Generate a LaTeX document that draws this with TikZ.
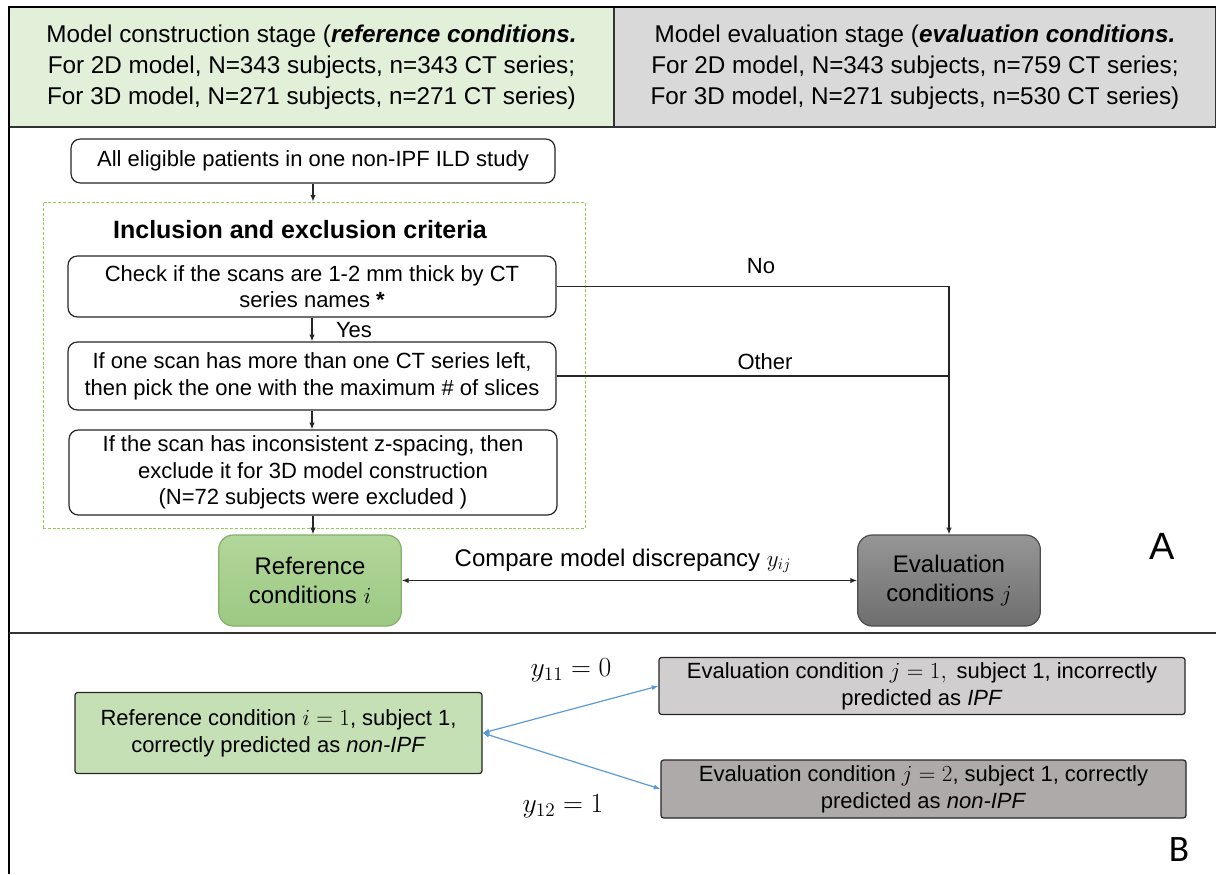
\documentclass[tikz,border=0pt]{standalone}
\usepackage{fontspec}
\setmainfont{Liberation Sans}
\newfontfamily\calfont{Carlito}
\usetikzlibrary{arrows.meta}
\definecolor{hdrgreen}{HTML}{E2EFD9}
\definecolor{hdrgrey}{HTML}{D9D9D9}
\definecolor{critgreen}{HTML}{92D050}
\definecolor{reftop}{HTML}{B2D69A}
\definecolor{refbot}{HTML}{9CC983}
\definecolor{refedge}{HTML}{86B06A}
\definecolor{evtop}{HTML}{969696}
\definecolor{evbot}{HTML}{6E6E6E}
\definecolor{refB}{HTML}{C5E0B4}
\definecolor{evB1}{HTML}{D0CECE}
\definecolor{evB2}{HTML}{AEAAAA}
\definecolor{linkblue}{HTML}{5B9BD5}
\begin{document}
\begin{tikzpicture}[x=0.75pt,y=-0.75pt,
  hdr/.style={draw=black!80, line width=1.4pt, align=center, inner sep=0pt,
    minimum height=90pt, font=\fontsize{18.2}{23.25}\selectfont},
  flowbox/.style={draw=black!85, line width=0.9pt, rounded corners=7pt, fill=white,
    align=center, inner sep=0pt, minimum width=366pt,
    font=\fontsize{16.5}{20}\selectfont},
  stagebox/.style={draw, line width=0.9pt, rounded corners=11pt, align=center,
    inner sep=0pt, minimum width=137pt, minimum height=68.25pt,
    font=\fontsize{18}{21.75}\selectfont},
  casebox/.style={draw=black!85, line width=0.9pt, rounded corners=2pt, align=center,
    inner sep=0pt, font=\fontsize{16.5}{20}\selectfont},
  lbl/.style={inner sep=0pt, font=\fontsize{16.5}{20}\selectfont},
  link/.style={draw=black!85, line width=0.9pt},
  arr/.style={link, -{Latex[length=5pt,width=4pt]}},
  darr/.style={link, {Latex[length=5pt,width=4pt]}-{Latex[length=5pt,width=4pt]}},
  barr/.style={draw=linkblue, line width=0.9pt,
    {Latex[length=5pt,width=4pt]}-{Latex[length=5pt,width=4pt]}}]
\useasboundingbox (0,0) rectangle (1216,874);

% header: the two stages
\node[hdr, fill=hdrgreen, minimum width=453.75pt] (hconst) at (311.5,67)
  {Model construction stage (\textbf{\textit{reference conditions.}}\\
   For 2D model, N=343 subjects, n=343 CT series;\\
   For 3D model, N=271 subjects, n=271 CT series)};
\node[hdr, fill=hdrgrey, minimum width=451.5pt] (heval) at (915,67)
  {Model evaluation stage (\textbf{\textit{evaluation conditions.}}\\
   For 2D model, N=343 subjects, n=759 CT series;\\
   For 3D model, N=271 subjects, n=530 CT series)};

% frame and panel separator
\draw[black, line width=2.2pt] (9,874) -- (9,7) -- (1216,7);
\draw[black!80, line width=1.4pt] (9,633) -- (1216,633);

% panel A: selection flow
\node[flowbox, minimum width=363pt, minimum height=33pt] (all) at (313,161)
  {All eligible patients in one non-IPF ILD study};
\node[draw=critgreen, line width=0.6pt, dash pattern=on 2.2pt off 1.4pt,
  minimum width=406.5pt, minimum height=244.5pt, inner sep=0pt] (crit) at (314,365) {};
\node[inner sep=0pt, font=\fontsize{18.75}{22}\selectfont\bfseries] (crittitle) at (300,230)
  {Inclusion and exclusion criteria};
\node[flowbox, minimum height=45.75pt] (box1) at (312,286.5)
  {Check if the scans are 1-2 mm thick by CT\\series names \textbf{*}};
\node[flowbox, minimum height=51pt] (box2) at (312,376)
  {If one scan has more than one CT series left,\\then pick the one with the maximum \# of slices};
\node[flowbox, minimum height=63.75pt] (box3) at (313,472.5)
  {If the scan has inconsistent z-spacing, then\\exclude it for 3D model construction\\(N=72 subjects were excluded )};

\node[stagebox, draw=refedge, top color=reftop, bottom color=refbot] (ref) at (310,580.5)
  {Reference\\conditions $i$};
\node[stagebox, draw=black!70, top color=evtop, bottom color=evbot] (eval) at (949,580.5)
  {Evaluation\\conditions $j$};

\draw[arr] (all.south) -- (all.south |- crit.north);
\draw[arr] (box1.south) -- (box1.south |- box2.north);
\node[lbl] (yes) at (354,330) {Yes};
\draw[arr] (box2.south) -- (box2.south |- box3.north);
\draw[arr] (box3.south) -- (box3.south |- ref.north);
\draw[arr] (box1.east) -| (eval.north);
\draw[link] (box2.east) -- (box2.east -| eval.north);
\node[lbl] (no) at (761,266) {No};
\node[lbl] (other) at (765,362) {Other};
\draw[darr] (ref.east) -- (eval.west);
\node[inner sep=0pt, font=\fontsize{18}{21}\selectfont] (cmp) at (623,561)
  {Compare model discrepancy $y_{ij}$};
\node[inner sep=0pt, font=\fontsize{28.5}{30}\selectfont] (pa) at (1162,546) {A};

% panel B: worked example
\node[casebox, fill=refB, minimum width=305.25pt, minimum height=60.75pt] (refB) at (278.5,733)
  {Reference condition $i = 1$, subject 1,\\correctly predicted as \textit{non-IPF}};
\node[casebox, fill=evB1, minimum width=394.5pt, minimum height=42.75pt] (evB1) at (922,686)
  {Evaluation condition $j = 1,$\, subject 1, incorrectly\\predicted as \textit{IPF}};
\node[casebox, fill=evB2, minimum width=393.75pt, minimum height=43.5pt] (evB2) at (923.5,789)
  {Evaluation condition $j = 2$, subject 1, correctly\\predicted as \textit{non-IPF}};
\draw[barr] (refB.east) -- (evB1.west);
\draw[barr] (refB.east) -- (evB2.west);
\node[inner sep=0pt, font=\fontsize{20}{23}\selectfont] (y11) at (571,670) {$y_{11} = 0$};
\node[inner sep=0pt, font=\fontsize{20}{23}\selectfont] (y12) at (563,806) {$y_{12} = 1$};
\node[inner sep=0pt, font=\calfont\fontsize{28}{30}\selectfont] (pb) at (1179,850) {B};
\end{tikzpicture}
\end{document}
